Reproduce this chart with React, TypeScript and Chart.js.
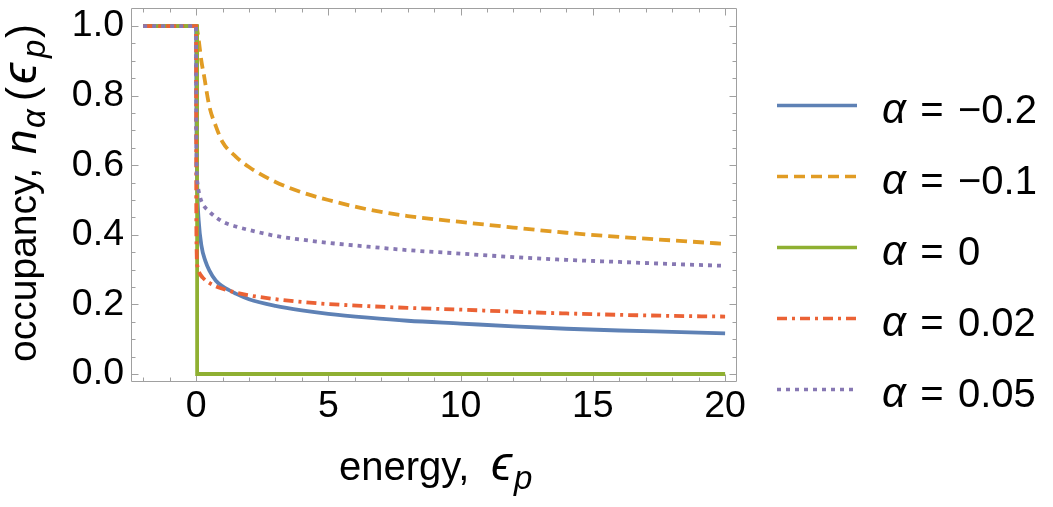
import React, { useEffect, useRef } from 'react';
import { Chart, registerables } from 'chart.js';

Chart.register(...registerables);

const FONT = "'Liberation Sans', Arial, Helvetica, sans-serif";

// ---- data ----
const energyBlue = [-2, 0, 0.005, 0.01, 0.02, 0.05, 0.1, 0.2, 0.35, 0.5, 0.75, 1, 1.5, 2, 3, 4, 5, 6.5, 8, 10, 12, 14, 16, 18, 20];
const occBlue = [1, 1, 0.95, 0.78, 0.66, 0.52, 0.44, 0.37, 0.325, 0.298, 0.268, 0.252, 0.231, 0.215, 0.196, 0.183, 0.173, 0.162, 0.153, 0.145, 0.137, 0.13, 0.125, 0.121, 0.117];

const energyOrange = [-2, 0, 0.03, 0.1, 0.2, 0.3, 0.5, 0.75, 1, 1.5, 2, 3, 4, 5, 6.5, 8, 10, 12, 14, 16, 18, 20];
const occOrange = [1, 1, 0.995, 0.96, 0.9, 0.858, 0.77, 0.712, 0.667, 0.625, 0.595, 0.552, 0.522, 0.5, 0.473, 0.454, 0.437, 0.421, 0.406, 0.394, 0.384, 0.374];

const energyGreen = [-2, 0, 0.04, 0.04, 20];
const occGreen = [1, 1, 1, 0, 0];

const energyRed = [-2, 0, 0.005, 0.02, 0.05, 0.1, 0.25, 0.5, 0.75, 1, 1.5, 2, 3, 4, 5, 6.5, 8, 10, 12, 14, 16, 18, 20];
const occRed = [1, 1, 0.6, 0.36, 0.31, 0.295, 0.277, 0.262, 0.252, 0.245, 0.234, 0.226, 0.215, 0.207, 0.201, 0.195, 0.19, 0.185, 0.179, 0.174, 0.17, 0.167, 0.165];

const energyPurple = [-2, 0, 0.005, 0.02, 0.05, 0.1, 0.2, 0.5, 1, 1.5, 2, 3, 4, 5, 6.5, 8, 10, 12, 14, 16, 18, 20];
const occPurple = [1, 1, 0.8, 0.6, 0.55, 0.525, 0.497, 0.467, 0.438, 0.424, 0.414, 0.397, 0.386, 0.377, 0.366, 0.356, 0.346, 0.336, 0.328, 0.322, 0.316, 0.311];

const alphaLabels = ['\u22120.2', '\u22120.1', '0', '0.02', '0.05'];

const xMajorTicks = [0, 5, 10, 15, 20];
const xMinorTicks = [-2, -1, 1, 2, 3, 4, 6, 7, 8, 9, 11, 12, 13, 14, 16, 17, 18, 19];
const yMajorTicks = [0, 0.2, 0.4, 0.6, 0.8, 1.0];
const yMinorTicks = [0.05, 0.1, 0.15, 0.25, 0.3, 0.35, 0.45, 0.5, 0.55, 0.65, 0.7, 0.75, 0.85, 0.9, 0.95];

// ---- styles ----
const seriesColors = ['#5E81B5', '#E19C24', '#8FB032', '#EB6235', '#8778B3'];
const seriesDashes: number[][] = [[], [11, 6], [], [10, 5, 3, 5], [4, 5]];
const FRAME = '#a0a0a0';

// runs placed at explicit offsets along the text direction
type Run = { text: string; font: string; at: number; dy?: number };

function drawRuns(ctx: CanvasRenderingContext2D, runs: Run[], y: number) {
  for (const r of runs) {
    ctx.font = r.font;
    ctx.fillText(r.text, r.at, y + (r.dy || 0));
  }
}

const framePlugin = {
  id: 'mmaFrame',
  beforeDatasetsDraw(chart: any) {
    const { ctx, chartArea: a, scales } = chart;
    const xs = scales.x;
    const ys = scales.y;
    const L = Math.round(a.left) + 0.5;
    const R = Math.round(a.right) - 0.5;
    const T = Math.round(a.top) + 0.5;
    const B = Math.round(a.bottom) - 0.5;
    ctx.save();
    ctx.strokeStyle = FRAME;
    ctx.lineWidth = 1;
    ctx.beginPath();
    ctx.rect(L, T, R - L, B - T);
    const xt = (vals: number[], len: number) => {
      for (const v of vals) {
        const px = Math.round(xs.getPixelForValue(v)) + 0.5;
        ctx.moveTo(px, B);
        ctx.lineTo(px, B - len);
        ctx.moveTo(px, T);
        ctx.lineTo(px, T + len);
      }
    };
    const yt = (vals: number[], len: number) => {
      for (const v of vals) {
        const py = Math.round(ys.getPixelForValue(v)) + 0.5;
        ctx.moveTo(L, py);
        ctx.lineTo(L + len, py);
        ctx.moveTo(R, py);
        ctx.lineTo(R - len, py);
      }
    };
    xt(xMajorTicks, 7);
    xt(xMinorTicks, 4);
    yt(yMajorTicks, 7);
    yt(yMinorTicks, 4);
    ctx.stroke();
    ctx.restore();
  },
  afterDraw(chart: any) {
    const { ctx } = chart;
    ctx.save();
    ctx.fillStyle = '#000';
    ctx.textBaseline = 'alphabetic';
    ctx.textAlign = 'left';
    const reg = `39px ${FONT}`;
    const paren = `42px ${FONT}`;
    const ita = `italic 44px ${FONT}`;
    const eps = `italic 48px ${FONT}`;
    const sub = `italic 33px ${FONT}`;

    // x title
    const xRuns: Run[] = [
      { text: 'energy,', font: `40px ${FONT}`, at: 339 },
      { text: '\u03F5', font: eps, at: 491 },
      { text: 'p', font: sub, at: 514, dy: 9 },
    ];
    drawRuns(ctx, xRuns, 480);

    // y title (rotated, reads bottom to top)
    const yRuns: Run[] = [
      { text: 'occupancy,', font: reg, at: -362 },
      { text: 'n', font: ita, at: -154 },
      { text: '\u03B1', font: sub, at: -128, dy: 9 },
      { text: '(', font: paren, at: -101 },
      { text: '\u03F5', font: eps, at: -84 },
      { text: 'p', font: sub, at: -58, dy: 9 },
      { text: ')', font: paren, at: -38 },
    ];
    ctx.save();
    ctx.translate(36, 0);
    ctx.rotate(-Math.PI / 2);
    drawRuns(ctx, yRuns, 0);
    ctx.restore();

    // legend
    for (let i = 0; i < alphaLabels.length; i++) {
      const ly = 105.5 + i * 71;
      ctx.save();
      ctx.strokeStyle = seriesColors[i];
      ctx.lineWidth = 3.4;
      ctx.setLineDash(seriesDashes[i]);
      ctx.beginPath();
      ctx.moveTo(777, ly);
      ctx.lineTo(857, ly);
      ctx.stroke();
      ctx.restore();
      ctx.textAlign = 'left';
      ctx.font = `italic 42px ${FONT}`;
      ctx.fillText('\u03B1', 882, ly + 17.5);
      ctx.font = `40px ${FONT}`;
      ctx.textAlign = 'center';
      ctx.fillText('=', 932, ly + 17.5);
      ctx.textAlign = 'left';
      ctx.fillText(alphaLabels[i], 958, ly + 17.5);
    }
    ctx.restore();
  },
};

function pts(xs: number[], ys: number[]) {
  return xs.map((x, i) => ({ x, y: ys[i] }));
}

export default function App() {
  const ref = useRef<HTMLCanvasElement | null>(null);
  useEffect(() => {
    const canvas = ref.current;
    if (!canvas) return;
    const series = [
      pts(energyBlue, occBlue),
      pts(energyOrange, occOrange),
      pts(energyGreen, occGreen),
      pts(energyRed, occRed),
      pts(energyPurple, occPurple),
    ];
    const datasets = series.map((data, i) => ({
      label: alphaLabels[i],
      data,
      borderColor: seriesColors[i],
      backgroundColor: seriesColors[i],
      borderWidth: 3.8,
      borderDash: seriesDashes[i],
      pointRadius: 0,
      fill: false,
      tension: 0,
      cubicInterpolationMode: i === 2 ? 'default' : 'monotone',
      order: 5 - i,
    }));
    const tickFont = { size: 37.5, family: FONT };
    const chart = new Chart(canvas, {
      type: 'line',
      data: { datasets } as any,
      options: {
        responsive: false,
        animation: false,
        layout: { padding: { top: 8, right: 316, left: 0, bottom: 0 } },
        plugins: { legend: { display: false }, tooltip: { enabled: false } },
        elements: { point: { radius: 0 } },
        scales: {
          x: {
            type: 'linear',
            min: -2.46,
            max: 20.45,
            grid: { display: false, drawTicks: false },
            border: { display: false },
            afterBuildTicks: (s: any) => {
              s.ticks = xMajorTicks.map((v) => ({ value: v }));
            },
            afterFit: (s: any) => {
              s.height = 125.5;
              s.paddingLeft = 0;
              s.paddingRight = 0;
              s.paddingTop = 0;
              s.paddingBottom = 0;
            },
            ticks: {
              font: tickFont,
              color: '#000',
              padding: 3,
              maxRotation: 0,
              autoSkip: false,
              callback: (v: any) => String(v),
            },
          },
          y: {
            type: 'linear',
            min: -0.0216,
            max: 1.052,
            grid: { display: false, drawTicks: false },
            border: { display: false },
            afterBuildTicks: (s: any) => {
              s.ticks = yMajorTicks.map((v) => ({ value: v }));
            },
            afterFit: (s: any) => {
              s.width = 131;
              s.paddingLeft = 0;
              s.paddingRight = 0;
              s.paddingTop = 0;
              s.paddingBottom = 0;
            },
            ticks: {
              font: tickFont,
              color: '#000',
              padding: 7,
              autoSkip: false,
              callback: (v: any) => Number(v).toFixed(1),
            },
          },
        },
      } as any,
      plugins: [framePlugin],
    });
    return () => chart.destroy();
  }, []);
  return (
    <div style={{ position: 'fixed', left: 0, top: 0, width: 1053, height: 507, background: '#fff' }}>
      <canvas ref={ref} width={1053} height={507} style={{ display: 'block', width: 1053, height: 507 }} />
    </div>
  );
}
